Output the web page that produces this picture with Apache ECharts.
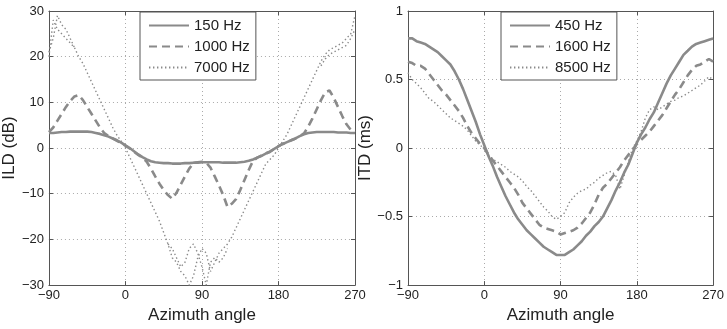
<!DOCTYPE html>
<html><head><meta charset="utf-8">
<script src="https://cdn.jsdelivr.net/npm/echarts@6/dist/echarts.min.js"></script>
<style>html,body{margin:0;padding:0;background:#fff}#c{width:727px;height:329px}</style>
</head><body><div id="c"></div>
<script>
// Azimuth angles (degrees), 5° steps
const angles = [];
for (let a = -90; a <= 270; a += 5) angles.push(a);

const xTicks = [-90, 0, 90, 180, 270];
const ildTicks = [-30, -20, -10, 0, 10, 20, 30];
const itdTicks = [-1, -0.5, 0, 0.5, 1];

// ILD (dB)
const ild150 = [3.3,3.3,3.4,3.5,3.5,3.6,3.6,3.6,3.6,3.6,3.5,3.3,3.1,2.8,2.5,2.1,1.7,1.2,0.6,0,-0.7,-1.4,-2.0,-2.5,-2.9,-3.1,-3.2,-3.3,-3.3,-3.4,-3.4,-3.4,-3.3,-3.3,-3.2,-3.2,-3.1,-3.1,-3.1,-3.1,-3.1,-3.2,-3.2,-3.2,-3.2,-3.1,-3.0,-2.8,-2.5,-2.1,-1.7,-1.2,-0.8,-0.2,0.4,0.9,1.3,1.7,2.1,2.6,3.0,3.3,3.4,3.5,3.5,3.5,3.5,3.5,3.4,3.4,3.4,3.3,3.3];
const ild1000 = [3.5,4.5,6,7.5,9,10.3,11.3,11.6,10.5,9,7.5,6,4.5,3.3,2.6,2.1,1.6,1.1,0.5,-0.1,-0.8,-1.5,-2.1,-3.0,-4.5,-6.2,-7.8,-9.2,-10.3,-11.1,-9.8,-8,-6.2,-4.5,-3.3,-3.1,-3.0,-3.2,-4.3,-6.2,-8.2,-10.3,-12.9,-12.2,-11.2,-9.2,-7,-4.8,-2.8,-2.1,-1.7,-1.2,-0.8,-0.2,0.4,0.9,1.3,1.7,2.1,2.6,3.2,4.7,6.5,8.5,10.5,12.2,12.6,11,9,7,5.2,4,3.5];
const ild7000 = [20,28,26,25,24,23,22,20,18.5,16.5,14.5,12.5,10.5,8.5,6.5,4.5,2.8,1.5,0,-2,-4,-6,-8,-10,-12,-14,-16,-18.5,-21,-24,-25,-27,-28,-30,-28,-24,-22,-23,-27,-25,-23,-22,-21,-19.5,-17.5,-15.5,-13.5,-11.5,-9.5,-7.5,-5.5,-3.5,-2.5,-1.5,0,1.5,3,5,7,9,11,13,15,17,19,20.5,21.5,22,22.5,23,24,25,29];
// second scattered strand of the 7000 Hz curve (only where it splits)
const ild7000b = [21,24,29,27,26,24,22,null,null,null,null,null,null,null,null,null,null,null,null,null,null,null,null,null,null,null,null,null,-21,-22,-24,-26,-25,-22,-21,-23,-26,-30,-25,-24,-25,-24,-22,null,null,null,null,null,null,null,null,null,null,null,null,null,null,null,null,null,null,null,null,null,18,19.5,20.5,21,21.5,22,22.5,24,26];

// ITD (ms)
const itd450 = [0.8,0.8,0.78,0.77,0.76,0.74,0.72,0.7,0.67,0.64,0.61,0.56,0.5,0.43,0.35,0.27,0.19,0.1,0.02,-0.06,-0.13,-0.21,-0.28,-0.35,-0.41,-0.47,-0.52,-0.56,-0.6,-0.63,-0.66,-0.69,-0.72,-0.74,-0.76,-0.78,-0.78,-0.78,-0.76,-0.74,-0.71,-0.68,-0.64,-0.61,-0.57,-0.54,-0.5,-0.44,-0.38,-0.31,-0.25,-0.18,-0.12,-0.04,0.04,0.1,0.15,0.21,0.26,0.33,0.4,0.47,0.53,0.58,0.63,0.68,0.71,0.74,0.76,0.77,0.78,0.79,0.8];
const itd1600 = [0.63,0.62,0.6,0.6,0.58,0.54,0.5,0.46,0.42,0.39,0.35,0.31,0.27,0.22,0.16,0.11,0.07,0.03,0,-0.05,-0.09,-0.13,-0.17,-0.21,-0.25,-0.29,-0.34,-0.4,-0.44,-0.48,-0.52,-0.56,-0.58,-0.59,-0.6,-0.61,-0.63,-0.62,-0.61,-0.6,-0.58,-0.55,-0.51,-0.47,-0.41,-0.34,-0.29,-0.26,-0.22,-0.18,-0.14,-0.09,-0.05,-0.01,0.03,0.06,0.09,0.12,0.16,0.2,0.24,0.29,0.34,0.39,0.43,0.48,0.53,0.57,0.6,0.61,0.63,0.65,0.63];
const itd8500 = [0.55,0.5,0.47,0.44,0.4,0.36,0.34,0.31,0.28,0.25,0.22,0.2,0.18,0.16,0.13,0.09,0.05,0.02,0,-0.05,-0.08,-0.1,-0.12,-0.14,-0.17,-0.19,-0.21,-0.24,-0.28,-0.31,-0.35,-0.39,-0.43,-0.46,-0.5,-0.52,-0.5,-0.47,-0.4,-0.36,-0.33,-0.31,-0.3,-0.27,-0.25,-0.22,-0.2,-0.18,-0.17,-0.2,-0.3,-0.2,-0.1,0,0.05,0.12,0.22,0.28,0.3,0.28,0.3,0.32,0.34,0.35,0.37,0.38,0.4,0.42,0.44,0.46,0.49,0.52,0.5];

const pairs = v => angles.map((a, i) => [a, v[i]]);
const minus = v => String(v).replace('-', '\u2212');
const COL = '#8a8a8a';
const FONT = 'Liberation Sans, Arial, Helvetica, sans-serif';

const grids = [
  {left: 47.5, right: 372, top: 11, bottom: 41.5},
  {left: 408, right: 12, top: 11, bottom: 41.5}
];

function xAx(g, main) {
  return {
    type: 'value', gridIndex: g, min: -90, max: 270, interval: 90,
    position: main ? 'bottom' : 'top',
    name: main ? 'Azimuth angle' : '', nameLocation: 'middle', nameGap: 19,
    nameTextStyle: {fontSize: 17, color: '#222', fontFamily: FONT},
    axisLine: {show: true, onZero: false, lineStyle: {color: '#555', width: 1}},
    axisTick: {show: true, inside: true, length: 4, lineStyle: {color: '#555'}},
    axisLabel: {show: main, fontSize: 13, color: '#222', fontFamily: FONT, margin: 4, formatter: minus},
    splitLine: {show: main, lineStyle: {type: [1, 3], color: '#aaa', width: 1}}
  };
}
function yAx(g, main, min, max, interval, name) {
  return {
    type: 'value', gridIndex: g, min, max, interval,
    position: main ? 'left' : 'right',
    name: main ? name : '', nameLocation: 'middle', nameGap: g === 0 ? 29 : 21,
    nameTextStyle: {fontSize: 17, color: '#222', fontFamily: FONT},
    axisLine: {show: true, onZero: false, lineStyle: {color: '#555', width: 1}},
    axisTick: {show: true, inside: true, length: 4, lineStyle: {color: '#555'}},
    axisLabel: {show: main, fontSize: 13, color: '#222', fontFamily: FONT, margin: 5, formatter: minus},
    splitLine: {show: main, lineStyle: {type: [1, 3], color: '#aaa', width: 1}}
  };
}

function ser(name, data, g, style) {
  return {
    name, type: 'line', xAxisIndex: g * 2, yAxisIndex: g * 2, data: pairs(data),
    symbol: 'none', connectNulls: false, silent: true, animation: false,
    lineStyle: Object.assign({color: COL}, style), itemStyle: {color: COL}
  };
}
const solid = {width: 2.6, type: 'solid'};
const dashed = {width: 2.6, type: [8, 5]};
const dotted = {width: 1.4, type: [1.4, 2.6]};

const legendBase = {
  orient: 'vertical', top: 12, itemWidth: 40, itemHeight: 14, itemGap: 6,
  padding: [6, 6, 5, 8], borderColor: '#555', borderWidth: 1, backgroundColor: '#fff',
  textStyle: {fontSize: 15, color: '#222', fontFamily: FONT, padding: [0, 0, 0, 0]},
  itemStyle: {opacity: 0, borderWidth: 0}, selectedMode: false
};

const option = {
  animation: false,
  textStyle: {fontFamily: FONT},
  grid: grids,
  xAxis: [xAx(0, true), xAx(0, false), xAx(1, true), xAx(1, false)],
  yAxis: [yAx(0, true, -30, 30, 10, 'ILD (dB)'), yAx(0, false, -30, 30, 10),
          yAx(1, true, -1, 1, 0.5, 'ITD (ms)'), yAx(1, false, -1, 1, 0.5)],
  legend: [
    Object.assign({}, legendBase, {left: 140, data: ['150 Hz', '1000 Hz', '7000 Hz']}),
    Object.assign({}, legendBase, {left: 501, data: ['450 Hz', '1600 Hz', '8500 Hz']})
  ],
  series: [
    ser('7000 Hz', ild7000, 0, dotted),
    ser('7000 Hz', ild7000b, 0, dotted),
    ser('1000 Hz', ild1000, 0, dashed),
    ser('150 Hz', ild150, 0, solid),
    ser('8500 Hz', itd8500, 1, dotted),
    ser('1600 Hz', itd1600, 1, dashed),
    ser('450 Hz', itd450, 1, solid)
  ]
};
const chart = echarts.init(document.getElementById('c'), null, {renderer: 'canvas'});
chart.setOption(option);
</script></body></html>
